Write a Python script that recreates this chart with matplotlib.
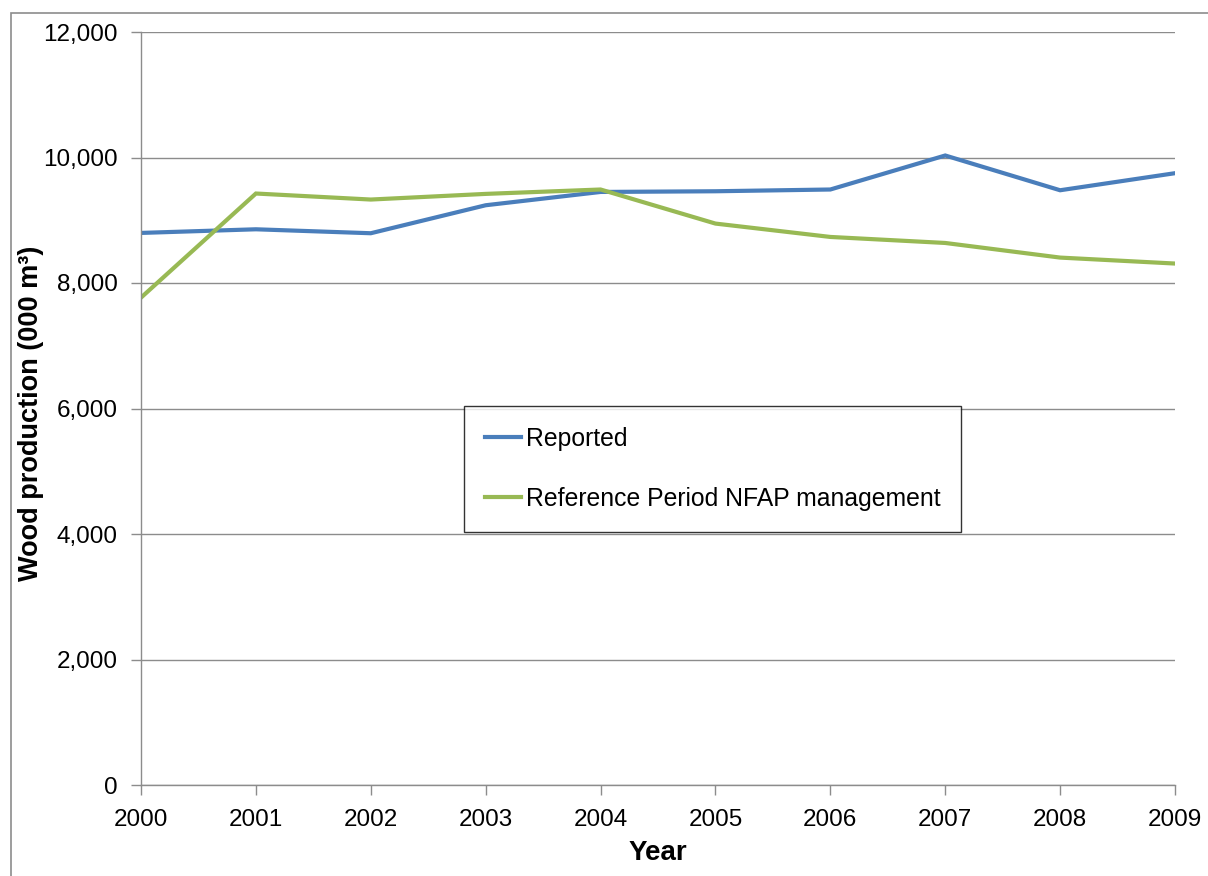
import matplotlib
matplotlib.use("Agg")
import matplotlib.pyplot as plt
from matplotlib.ticker import FuncFormatter
from matplotlib.patches import Rectangle

years = [2000, 2001, 2002, 2003, 2004, 2005, 2006, 2007, 2008, 2009]
reported = [8798, 8856, 8793, 9239, 9451, 9462, 9490, 10032, 9478, 9750]
reference = [7767, 9426, 9330, 9420, 9490, 8947, 8734, 8638, 8405, 8310]
series_labels = ["Reported", "Reference Period NFAP management"]

plt.rcParams['font.family'] = ['Liberation Sans', 'DejaVu Sans']

W, H = 1208, 876
fig = plt.figure(figsize=(W / 100, H / 100), dpi=100)
ax = fig.add_axes([141 / W, 1 - 785 / H, (1175 - 141) / W, (785 - 32) / H])

ax.plot(years, reported, color='#4a7ebb', lw=3, label=series_labels[0], solid_joinstyle='miter')
ax.plot(years, reference, color='#98b954', lw=3, label=series_labels[1], solid_joinstyle='miter')

ax.set_xlim(2000, 2009)
ax.set_ylim(0, 12000)
ax.set_xticks(years)
ax.set_yticks(range(0, 12001, 2000))
ax.yaxis.set_major_formatter(FuncFormatter(lambda v, p: f"{int(v):,}"))
ax.grid(axis='y', color='#8c8c8c', lw=1)
ax.set_axisbelow(True)
for s in ['top', 'right']:
    ax.spines[s].set_visible(False)
for s in ['left', 'bottom']:
    ax.spines[s].set_color('#8c8c8c')
    ax.spines[s].set_linewidth(1)
ax.tick_params(axis='both', direction='out', length=7, color='#8c8c8c', labelsize=17.5, width=1)
ax.tick_params(axis='y', pad=10)
ax.tick_params(axis='x', pad=10)

ax.set_xlabel("Year", fontsize=20, fontweight='bold', labelpad=7)
ax.set_ylabel("Wood production (000 m³)", fontsize=19.5, fontweight='bold')
ax.yaxis.set_label_coords((31 - 141) / 1034, (785 - 413.5) / 753)
ax.yaxis.label.set_va('center')

leg = ax.legend(loc='upper left', bbox_to_anchor=((464 - 141) / (1175 - 141), (785 - 406) / (785 - 32)),
                frameon=True, fancybox=False, fontsize=17.8, handlelength=1.45, handletextpad=0.2,
                labelspacing=1.45, borderpad=0.85, borderaxespad=0)
leg.get_frame().set_edgecolor('black')
leg.get_frame().set_linewidth(1)

fig.patches.append(Rectangle((11 / W, -0.01), 1.02, 1 - 13 / H + 0.01, transform=fig.transFigure,
                             fill=False, edgecolor='#8c8c8c', lw=1.2))

fig.savefig("out.png", dpi=100)
